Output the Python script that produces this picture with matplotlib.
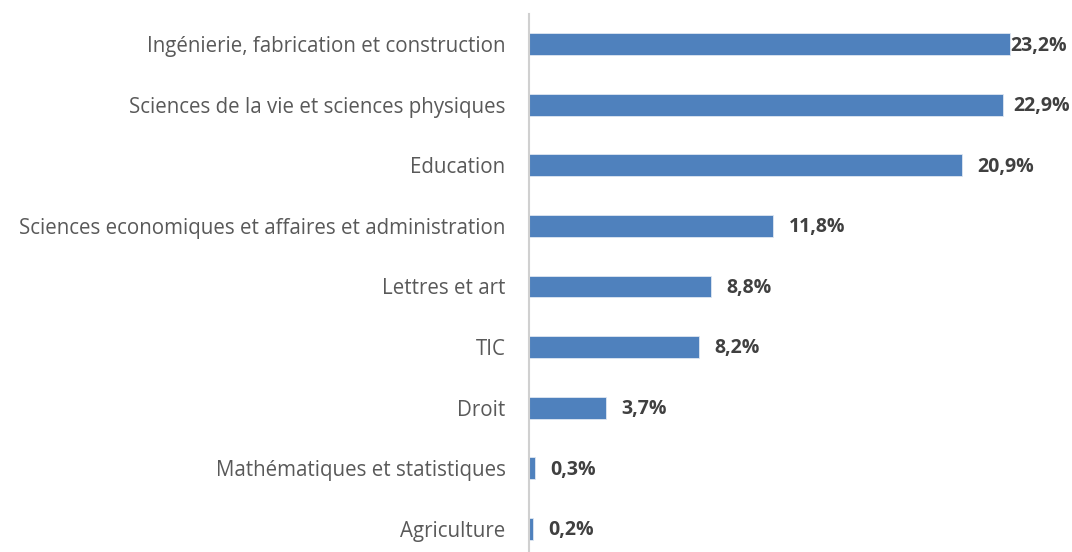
import matplotlib
matplotlib.use("Agg")
import matplotlib.pyplot as plt

categories = [
    "Ingénierie, fabrication et construction",
    "Sciences de la vie et sciences physiques",
    "Education",
    "Sciences economiques et affaires et administration",
    "Lettres et art",
    "TIC",
    "Droit",
    "Mathématiques et statistiques",
    "Agriculture",
]
values = [23.2, 22.9, 20.9, 11.8, 8.8, 8.2, 3.7, 0.3, 0.2]
value_labels = ["23,2%", "22,9%", "20,9%", "11,8%", "8,8%", "8,2%", "3,7%", "0,3%", "0,2%"]

plt.rcParams['font.family'] = ['Open Sans', 'DejaVu Sans']

fig = plt.figure(figsize=(10.72, 5.52), dpi=100)
ax = fig.add_axes([529/1072, -7/552, 518/1072, 545/552])

y = list(range(len(categories)))
ax.barh(y, values, height=0.36, color="#4F81BD", edgecolor="#dfe7f2", linewidth=0.6)
ax.set_ylim(len(categories) - 0.5, -0.5)
ax.set_xlim(0, 25)
ax.set_yticks(y)
ax.set_yticklabels(categories, fontsize=14.8, color="#595959")
ax.tick_params(axis='y', length=0, pad=17)
ax.set_xticks([])
for s in ["top", "right", "bottom"]:
    ax.spines[s].set_visible(False)
ax.spines["left"].set_color("#d0d0d0")
ax.spines["left"].set_linewidth(1.5)

for yi, v, lab in zip(y, values, value_labels):
    if v > 23:
        off = 0.5
    elif v > 22:
        off = 7
    else:
        off = 11
    ax.annotate(lab, (v, yi), xytext=(off, -1), textcoords="offset points",
                ha="left", va="center", fontsize=14, fontweight="bold",
                color="#404040", clip_on=False)

fig.savefig("out.png", dpi=100)
